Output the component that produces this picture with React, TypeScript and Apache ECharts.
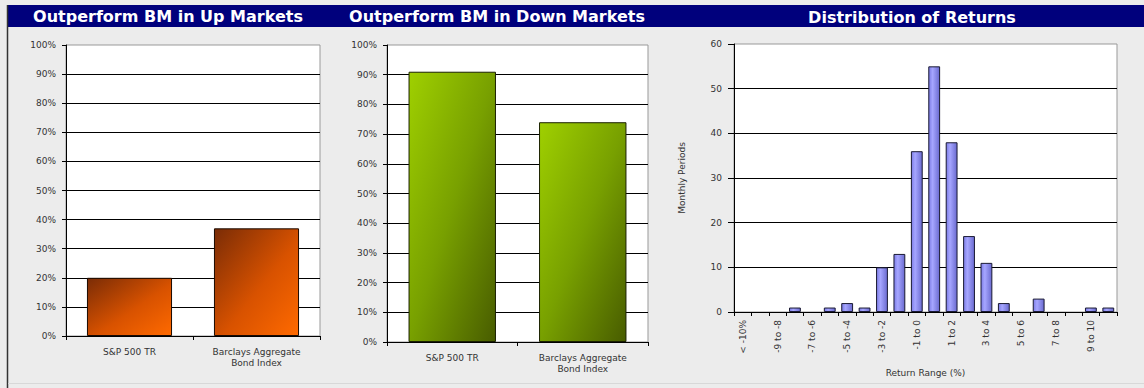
import React, { useEffect, useRef } from "react";
import * as echarts from "echarts";

const benchCategories = ["S&P 500 TR", "Barclays Aggregate\nBond Index"];
const upMarketValues = [20, 37];
const downMarketValues = [91, 74];
const returnRanges = [
  "< -10%", "-10 to -9", "-9 to -8", "-8 to -7", "-7 to -6", "-6 to -5",
  "-5 to -4", "-4 to -3", "-3 to -2", "-2 to -1", "-1 to 0", "0 to 1",
  "1 to 2", "2 to 3", "3 to 4", "4 to 5", "5 to 6", "6 to 7", "7 to 8",
  "8 to 9", "9 to 10", "> 10%",
];
const returnCounts = [0, 0, 0, 1, 0, 1, 2, 1, 10, 13, 36, 55, 38, 17, 11, 2, 0, 3, 0, 0, 1, 1];
const panelTitles = ["Outperform BM in Up Markets", "Outperform BM in Down Markets", "Distribution of Returns"];

const FONT = "DejaVu Sans";
const labelStyle = { color: "#333", fontSize: 9, fontFamily: FONT };

const orangeFill = new echarts.graphic.LinearGradient(0, 0, 1, 1, [
  { offset: 0, color: "#7a2c06" },
  { offset: 0.55, color: "#d85200" },
  { offset: 1, color: "#ff6a00" },
]);
const greenFill = new echarts.graphic.LinearGradient(0, 0, 1, 1, [
  { offset: 0, color: "#9fd000" },
  { offset: 0.5, color: "#78a000" },
  { offset: 1, color: "#485c00" },
]);
const purpleFill = new echarts.graphic.LinearGradient(0, 0, 1, 0, [
  { offset: 0, color: "#7c7ce6" },
  { offset: 0.35, color: "#a6a6ff" },
  { offset: 1, color: "#6a6ad0" },
]);

export default function App() {
  const ref = useRef<HTMLDivElement>(null);
  useEffect(() => {
    if (!ref.current) return;
    const chart = echarts.init(ref.current, undefined, { renderer: "svg" });

    const pctYAxis = (gridIndex: number) => ({
      type: "value",
      gridIndex,
      min: 0,
      max: 100,
      interval: 10,
      axisLine: { show: true, lineStyle: { color: "#000" } },
      axisTick: { show: true, length: 4, lineStyle: { color: "#000" } },
      axisLabel: { ...labelStyle, formatter: "{value}%", margin: 10 },
      splitLine: { show: true, showMaxLine: false, lineStyle: { color: "#000", width: 1 } },
    });
    const benchXAxis = (gridIndex: number) => ({
      type: "category",
      gridIndex,
      data: benchCategories,
      axisLine: { show: true, lineStyle: { color: "#000" } },
      axisTick: { show: true, length: 4, lineStyle: { color: "#000" } },
      axisLabel: { ...labelStyle, margin: 10, lineHeight: 11 },
    });
    const titleFont = `bold 16px "${FONT}"`;

    chart.setOption({
      animation: false,
      backgroundColor: "#ececec",
      graphic: [
        { type: "rect", shape: { x: 7, y: 5, width: 1137, height: 22 }, style: { fill: "#00007c" } },
        { type: "line", shape: { x1: 7.5, y1: 5, x2: 7.5, y2: 388 }, style: { stroke: "#333", lineWidth: 1.5 } },
        { type: "line", shape: { x1: 8, y1: 383.5, x2: 1144, y2: 383.5 }, style: { stroke: "#d8d8d8", lineWidth: 1 } },
        {
          type: "text", x: 168, y: 16,
          style: { text: panelTitles[0], fill: "#fff", font: titleFont, textAlign: "center", textVerticalAlign: "middle" },
        },
        {
          type: "text", x: 497, y: 16,
          style: { text: panelTitles[1], fill: "#fff", font: titleFont, textAlign: "center", textVerticalAlign: "middle" },
        },
        {
          type: "text", x: 912, y: 17,
          style: { text: panelTitles[2], fill: "#fff", font: titleFont, textAlign: "center", textVerticalAlign: "middle" },
        },
      ],
      grid: [
        { left: 66, top: 45, width: 254, height: 291, show: true, backgroundColor: "#fff", borderColor: "#999", borderWidth: 1 },
        { left: 387, top: 45, width: 261, height: 297, show: true, backgroundColor: "#fff", borderColor: "#999", borderWidth: 1 },
        { left: 734, top: 44, width: 383, height: 268, show: true, backgroundColor: "#fff", borderColor: "#999", borderWidth: 1 },
      ],
      xAxis: [
        benchXAxis(0),
        benchXAxis(1),
        {
          type: "category",
          gridIndex: 2,
          data: returnRanges,
          name: "Return Range (%)",
          nameLocation: "middle",
          nameGap: 56,
          nameTextStyle: { ...labelStyle },
          axisLine: { show: true, lineStyle: { color: "#000" } },
          axisTick: { show: true, length: 4, interval: 0, lineStyle: { color: "#000" } },
          axisLabel: { ...labelStyle, rotate: 90, interval: 1, margin: 8 },
        },
      ],
      yAxis: [
        pctYAxis(0),
        pctYAxis(1),
        {
          type: "value",
          gridIndex: 2,
          min: 0,
          max: 60,
          interval: 10,
          name: "Monthly Periods",
          nameLocation: "middle",
          nameGap: 48,
          nameRotate: 90,
          nameTextStyle: { ...labelStyle },
          axisLine: { show: true, lineStyle: { color: "#000" } },
          axisTick: { show: true, length: 6, lineStyle: { color: "#000" } },
          axisLabel: { ...labelStyle, margin: 12 },
          splitLine: { show: true, showMaxLine: false, lineStyle: { color: "#000", width: 1 } },
        },
      ],
      series: [
        {
          type: "bar", xAxisIndex: 0, yAxisIndex: 0, data: upMarketValues, barWidth: "67%",
          itemStyle: { color: orangeFill, borderColor: "#1a0a00", borderWidth: 1 },
        },
        {
          type: "bar", xAxisIndex: 1, yAxisIndex: 1, data: downMarketValues, barWidth: "67%",
          itemStyle: { color: greenFill, borderColor: "#1a2000", borderWidth: 1 },
        },
        {
          type: "bar", xAxisIndex: 2, yAxisIndex: 2,
          data: returnCounts.map((v) => (v === 0 ? "-" : v)),
          barWidth: "68%",
          itemStyle: { color: purpleFill, borderColor: "#1a1a33", borderWidth: 1 },
        },
      ],
    });
    return () => chart.dispose();
  }, []);
  return <div ref={ref} style={{ position: "fixed", left: 0, top: 0, width: 1144, height: 388 }} />;
}
